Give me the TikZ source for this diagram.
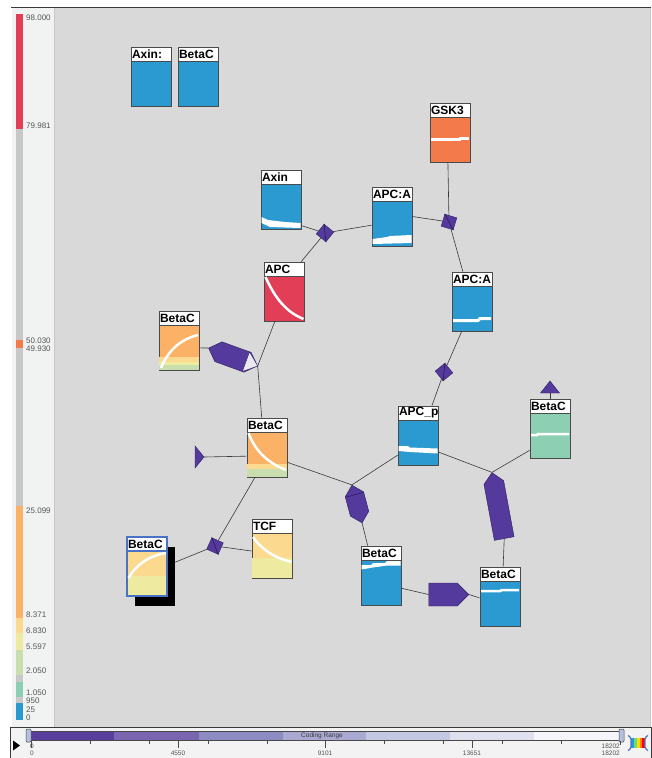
\documentclass[tikz,border=0pt]{standalone}
\usepackage{fontspec}
\setmainfont{Liberation Sans}
\usetikzlibrary{positioning,shapes.symbols}

\definecolor{canvas}{HTML}{D9D9D9}
\definecolor{legendbg}{HTML}{F1F2F2}
\definecolor{legendgray}{HTML}{C8C8C8}
\definecolor{legendtext}{HTML}{555555}
\definecolor{frameline}{HTML}{3A3A3A}
\definecolor{panelbg}{HTML}{F3F3F3}
\definecolor{cblue}{HTML}{2A9AD0}
\definecolor{cred}{HTML}{E23E57}
\definecolor{cgsk}{HTML}{F37A4A}
\definecolor{corange}{HTML}{FBB266}
\definecolor{cyellow}{HTML}{FBD98E}
\definecolor{cpale}{HTML}{EEEAA0}
\definecolor{cgreen}{HTML}{C8DEAE}
\definecolor{cteal}{HTML}{8DCFB2}
\definecolor{rxn}{HTML}{553A9E}
\definecolor{rxnline}{HTML}{2E1C5E}
\definecolor{rxntip}{HTML}{EBE8F2}
\definecolor{boxline}{HTML}{4A4A4A}
\definecolor{linkgray}{HTML}{3A3A3A}
\definecolor{selblue}{HTML}{4A72C4}
\definecolor{sa}{HTML}{5A3E9E}
\definecolor{sb}{HTML}{7A66B0}
\definecolor{sc}{HTML}{8E8AC4}
\definecolor{sd}{HTML}{A9A9D3}
\definecolor{se}{HTML}{C5C8E2}
\definecolor{sf}{HTML}{DFE0EE}
\definecolor{sg}{HTML}{F6F6FA}
\definecolor{handle}{HTML}{B4C0DE}

\begin{document}
\begin{tikzpicture}[x=1pt,y=-1pt]
	\tikzstyle{species} = [draw=boxline, line width=0.8pt, rectangle, minimum width=40pt, minimum height=59pt, inner sep=0pt]
	\tikzstyle{header} = [draw=boxline, line width=0.8pt, fill=white, rectangle, minimum width=40pt, minimum height=14pt, text width=38pt, inner xsep=1pt, inner ysep=0pt, align=left, font=\bfseries\fontsize{12}{12}\selectfont]
	\tikzstyle{assoc} = [draw=rxnline, line width=0.4pt, fill=rxn, rectangle, minimum size=12.5pt, inner sep=0pt]
	\tikzstyle{process} = [draw=rxnline, line width=0.4pt, fill=rxn, signal, inner sep=0pt]
	\tikzstyle{link} = [draw=linkgray, line width=0.6pt]
	\tikzstyle{trend} = [white, line width=2.5pt]
	\tikzstyle{legtext} = [anchor=west, inner sep=0pt, text=legendtext, font=\fontsize{8}{8}\selectfont]
	\tikzstyle{ticktext} = [inner sep=0pt, text=legendtext, font=\fontsize{6.5}{6.5}\selectfont]
	
	\useasboundingbox (0,0) rectangle (652,758);
	\fill[white] (0,0) rectangle (652,758);
	\fill[legendbg] (12,8) rectangle (54,727);
	\fill[canvas] (54,8) rectangle (650,727);
	\draw[legendgray, line width=0.8pt] (54,8) -- (54,727);
	\draw[legendgray, line width=0.8pt] (650,8) -- (650,727);
	\draw[frameline, line width=1pt] (11,7.5) -- (651,7.5);
	
	\fill[cred] (16,14) rectangle (23,129);
	\fill[legendgray] (16,129) rectangle (23,340);
	\fill[cgsk] (16,340) rectangle (23,348);
	\fill[legendgray] (16,348) rectangle (23,506);
	\fill[corange] (16,506) rectangle (23,618);
	\fill[cyellow] (16,618) rectangle (23,633);
	\fill[cpale] (16,633) rectangle (23,650);
	\fill[cgreen] (16,650) rectangle (23,675);
	\fill[legendgray] (16,675) rectangle (23,682);
	\fill[cteal] (16,682) rectangle (23,697);
	\fill[legendgray] (16,697) rectangle (23,703);
	\fill[cblue] (16,703) rectangle (23,720);
	
	\node[legtext] (leg1) at (26,18) {98.000};
	\node[legtext] (leg2) at (26,126) {79.981};
	\node[legtext] (leg3) at (26,340.5) {50.030};
	\node[legtext] (leg4) at (26,348.5) {49.930};
	\node[legtext] (leg5) at (26,511) {25.099};
	\node[legtext] (leg6) at (26,615) {8.371};
	\node[legtext] (leg7) at (26,631) {6.830};
	\node[legtext] (leg8) at (26,647) {5.597};
	\node[legtext] (leg9) at (26,671) {2.050};
	\node[legtext] (leg10) at (26,693) {1.050};
	\node[legtext] (leg11) at (26,701) {950};
	\node[legtext] (leg12) at (26,710) {25};
	\node[legtext] (leg13) at (26,718) {0};
	
	\fill[panelbg] (10,727.5) rectangle (651,758);
	\draw[frameline, line width=0.8pt] (10,758) -- (10,727.5) -- (651,727.5) -- (651,758);
	\fill[sa] (29,731) rectangle (114,740);
	\fill[sb] (114,731) rectangle (199,740);
	\fill[sc] (199,731) rectangle (283,740);
	\fill[sd] (283,731) rectangle (366,740);
	\fill[se] (366,731) rectangle (450,740);
	\fill[sf] (450,731) rectangle (534,740);
	\fill[sg] (534,731) rectangle (622,740);
	\draw[boxline, line width=0.5pt] (29,731) rectangle (622,740);
	\node[ticktext, text=frameline] (crange) at (322,735.5) {Coding Range};
	\draw[boxline, line width=0.5pt, fill=handle, rounded corners=1pt] (26,729) rectangle (31,742);
	\draw[boxline, line width=0.5pt, fill=handle, rounded corners=1pt] (619,729) rectangle (624,742);
	\draw[boxline, line width=0.5pt] (90,741) -- (90,744) (149,741) -- (149,744) (208,741) -- (208,744) (267,741) -- (267,744) (384,741) -- (384,744) (443,741) -- (443,744) (502,741) -- (502,744) (561,741) -- (561,744);
	\draw[boxline, line width=0.5pt] (31,741) -- (31,748) (178,741) -- (178,748) (325,741) -- (325,748) (472,741) -- (472,748) (620,741) -- (620,745);
	\node[ticktext] (min1) at (32,746) {0};
	\node[ticktext] (min2) at (32,753) {0};
	\node[ticktext] (q1) at (178,753) {4550};
	\node[ticktext] (q2) at (325,753) {9101};
	\node[ticktext] (q3) at (472,753) {13651};
	\node[ticktext, anchor=east] (max1) at (620,746) {18202};
	\node[ticktext, anchor=east] (max2) at (620,753) {18202};
	\fill[black] (13,740.5) -- (20,745.5) -- (13,750.5) -- cycle;
	\fill[cblue] (631,738) rectangle (634,748);
	\fill[cteal!70!green] (634,738) rectangle (637,748);
	\fill[yellow!80!orange] (637,738) rectangle (640,748);
	\fill[orange] (640,738) rectangle (642,748);
	\fill[red] (642,738) rectangle (645,748);
	\draw[selblue, line width=1.2pt, rounded corners=1.5pt] (628,735.5) -- (631,737.5) -- (631,748.5) -- (628,750.5) (648,735.5) -- (645,737.5) -- (645,748.5) -- (648,750.5);
	
	\node[species, fill=cblue] (axinT) at (151,76.5) {};
	\node[header, below=0pt of axinT.north] (axinTh) {Axin:};
	\node[species, fill=cblue] (betaT) at (198,76.5) {};
	\node[header, below=0pt of betaT.north] (betaTh) {BetaC};
	
	\node[species, fill=cgsk] (gsk) at (450,132.5) {};
	\node[header, below=0pt of gsk.north] (gskh) {GSK3};
	\draw[trend] (431,139.5) -- (460,139.5) -- (460,138.5) -- (469,138.5);
	
	\node[species, fill=cblue] (axinM) at (281,199.5) {};
	\node[header, below=0pt of axinM.north] (axinMh) {Axin};
	\fill[white] (261.5,217) -- (268,220) -- (285,222) -- (300.5,223) -- (300.5,228) -- (270,227) -- (261.5,223) -- cycle;
	
	\node[species, fill=cblue] (apcA1) at (392,216.5) {};
	\node[header, below=0pt of apcA1.north] (apcA1h) {APC:A};
	\fill[white] (372.5,239) -- (387,237) -- (390,236) -- (411.5,235) -- (411.5,243) -- (372.5,244) -- cycle;
	
	\node[species, fill=cblue] (apcA2) at (472,301.5) {};
	\node[header, below=0pt of apcA2.north] (apcA2h) {APC:A};
	\draw[white, line width=3pt] (453,320.5) -- (478,320.5) -- (480,318.5) -- (491,318.5);
	
	\node[species, fill=cred] (apc) at (284,291.5) {};
	\node[header, below=0pt of apc.north] (apch) {APC};
	\draw[trend] (265.5,277) .. controls (275,298) and (286,312) .. (303.5,319);
	
	\node[species, fill=corange] (betaL) at (179,340.5) {};
	\node[header, below=0pt of betaL.north] (betaLh) {BetaC};
	\fill[cyellow] (159.4,357) rectangle (198.6,362);
	\fill[cpale] (159.4,362) rectangle (198.6,365);
	\fill[cgreen] (159.4,365) rectangle (198.6,369.6);
	\draw[trend] (161,368) .. controls (167,353) and (178,340) .. (198,335);
	
	\node[species, fill=corange] (betaC) at (267,447.5) {};
	\node[header, below=0pt of betaC.north] (betaCh) {BetaC};
	\fill[cyellow] (247.4,464) rectangle (286.6,469);
	\fill[cgreen] (247.4,469) rectangle (286.6,476.6);
	\draw[trend] (248.5,433) .. controls (255,450) and (266,462) .. (286,470);
	
	\node[species, fill=cyellow] (tcf) at (272,548.5) {};
	\node[header, below=0pt of tcf.north] (tcfh) {TCF};
	\fill[cpale] (252.4,558) rectangle (291.6,577.6);
	\draw[trend] (253,537) .. controls (260,547) and (271,557) .. (291.5,562);
	
	\node[fill=black, minimum width=40pt, minimum height=59pt, inner sep=0pt] (betaSsh) at (154.5,576) {};
	\node[species, fill=cyellow, draw=selblue, line width=1.2pt] (betaS) at (147,566.5) {};
	\node[header, draw=selblue, line width=1.2pt, below=0pt of betaS.north] (betaSh) {BetaC};
	\fill[cpale] (127.6,576) rectangle (166.4,595.4);
	\draw[trend] (128.5,578) .. controls (136,565) and (148,556) .. (166,553);
	
	\node[species, fill=cblue] (apcP) at (418,435.5) {};
	\node[header, below=0pt of apcP.north] (apcPh) {APC\_p};
	\fill[white] (398.5,446) -- (408,446) -- (410,447.5) -- (437.5,448.5) -- (437.5,453.5) -- (410,452) -- (398.5,451) -- cycle;
	
	\node[species, fill=cteal] (betaG) at (550,428.5) {};
	\node[header, below=0pt of betaG.north] (betaGh) {BetaC};
	\draw[trend] (531,435) -- (537,435) -- (538,434) -- (569,434);
	
	\node[species, fill=cblue] (betaB1) at (381,575.5) {};
	\node[header, below=0pt of betaB1.north] (betaB1h) {BetaC};
	\fill[white] (361.5,565) -- (371,565) -- (373,563) -- (385,563) -- (387,561) -- (400.5,561) -- (400.5,565.5) -- (387,565.5) -- (373,567.5) -- (361.5,569.5) -- cycle;
	
	\node[species, fill=cblue] (betaB2) at (500,596.5) {};
	\node[header, below=0pt of betaB2.north] (betaB2h) {BetaC};
	\draw[trend] (481,591) -- (500,591) -- (502,590) -- (519,590);
	
	\node[assoc, rotate=51] (d1) at (325,233) {};
	\draw[rxnline, line width=0.7pt] (d1.north east) -- (d1.south west);
	\node[assoc, rotate=73] (d2) at (449,222) {};
	\draw[rxnline, line width=0.7pt] (d2.north east) -- (d2.south west);
	\node[assoc, rotate=39] (d3) at (444,372) {};
	\draw[rxnline, line width=0.7pt] (d3.north east) -- (d3.south west);
	\node[assoc, rotate=66] (d4) at (215,546) {};
	\draw[rxnline, line width=0.7pt] (d4.north east) -- (d4.south west);
	
	\node[process, signal to=west and east, minimum width=52pt, minimum height=21pt, rotate=-20] (r1) at (233,357) {};
	\filldraw[fill=rxntip, draw=rxnline, line width=0.4pt] (249.5,351.8) -- (r1.east) -- (242.4,371.5) -- cycle;
	\node[process, signal to=north and south, minimum width=19pt, minimum height=20pt, rotate=15] (r2) at (357,504) {};
	\draw[rxnline, line width=0.6pt] (345.4,497.3) -- (363.7,492.4);
	\node[process, signal to=north, minimum width=20pt, minimum height=57pt, rotate=10.5] (r3) at (499,510.5) {};
	\node[process, signal to=east, minimum width=40pt, minimum height=23pt] (r4) at (443,594.5) {};
	
	\coordinate (t1) at (204,457);
	\filldraw[fill=rxn, draw=rxnline, line width=0.4pt] (t1) -- (195,446) -- (195,468) -- cycle;
	\coordinate (t2) at (550,393);
	\filldraw[fill=rxn, draw=rxnline, line width=0.4pt] (540.5,393) -- (550,381) -- (559.5,393) -- cycle;
	
	\draw[link] (axinM.-52) -- (d1);
	\draw[link] (d1) -- (apcA1.203);
	\draw[link] (d1) -- (apc.60);
	\draw[link] (apcA1.east) -- (d2);
	\draw[link] (gsk.-94) -- (d2);
	\draw[link] (d2) -- (apcA2.107);
	\draw[link] (apcA2.251) -- (d3);
	\draw[link] (d3) -- (apcP.65);
	\draw[link] (apc.253) -- (r1.east);
	\draw[link] (r1.east) -- (betaC.100);
	\draw[link] (betaL.-20) -- (r1.west);
	\draw[link] (t1) -- (betaC.203);
	\draw[link] (betaC.248) -- (d4);
	\draw[link] (d4) -- (tcf.187);
	\draw[link] (betaSsh.34) -- (d4);
	\draw[link] (betaC.-36) -- (r2.north);
	\draw[link] (apcP.224) -- (r2.north);
	\draw[link] (r2.south) -- (betaB1.114);
	\draw[link] (apcP.-39) -- (r3.north);
	\draw[link] (betaG.227) -- (r3.north);
	\draw[link] (r3.south) -- (betaB2.84);
	\draw[link] (betaB1.-32) -- (r4.west);
	\draw[link] (r4.east) -- (betaB2.184);
	\draw[link] (t2) -- (betaG.north);
\end{tikzpicture}
\end{document}
